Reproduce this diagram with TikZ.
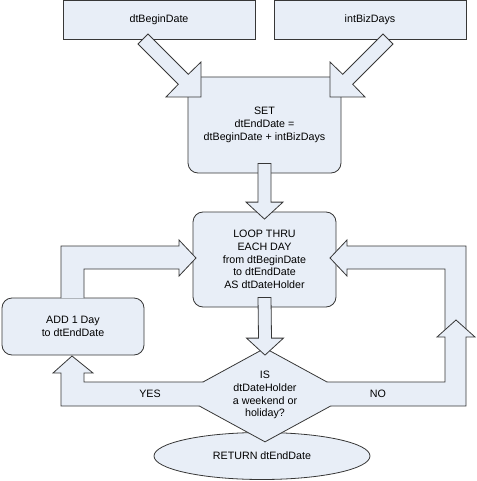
\documentclass[tikz,border=0pt]{standalone}
\usepackage{fontspec}
\setmainfont{Liberation Sans}
\usepackage{tikz}
\usetikzlibrary{calc}
\usetikzlibrary{shapes}
\definecolor{boxfill}{RGB}{232,238,247}
\definecolor{boxline}{RGB}{55,55,55}
\newcommand{\vblock}[2]{%
  \filldraw[blk] ($(#1)+(-6.5,-10)$) -- ($(#1)+(6.5,-10)$) -- ($(#2)+(6.5,-9.5)$)
    -- ($(#2)+(18.5,-9.5)$) -- ($(#2)+(0,7.5)$) -- ($(#2)+(-18.5,-9.5)$)
    -- ($(#2)+(-6.5,-9.5)$) -- cycle;}
\newcommand{\band}[1]{\fill[boxfill] #1 -- cycle; \draw[boxline,line width=.8pt] #1;}

\begin{document}
\begin{tikzpicture}[x=1pt,y=-1pt,
    font=\fontsize{10.7}{12.8}\selectfont,
    box/.style={draw=boxline,fill=boxfill,line width=.8pt,inner sep=0pt,align=center},
    rbox/.style={box,rounded corners=10pt},
    blk/.style={fill=boxfill,draw=boxline,line width=.8pt}]
  \useasboundingbox (0,0) rectangle (476,481);
  \node[box,minimum width=192pt,minimum height=39pt] (beg) at (159,20) {dtBeginDate};
  \node[box,minimum width=192pt,minimum height=39pt] (biz) at (370,20) {intBizDays};
  \node[rbox,minimum width=153pt,minimum height=96pt] (set) at (264.5,125)
    {SET\\dtEndDate =\\dtBeginDate + intBizDays};
  \node[rbox,minimum width=143pt,minimum height=95pt] (loop) at (264.5,259.5)
    {LOOP THRU\\EACH DAY\\from dtBeginDate\\to dtEndDate\\AS dtDateHolder};
  \node[rbox,minimum width=142pt,minimum height=57pt] (add) at (73,326.5)
    {ADD 1 Day\\to dtEndDate};
  \node[box,ellipse,minimum width=216pt,minimum height=47pt] (ret) at (262,456)
    {RETURN dtEndDate};
  \node[box,diamond,aspect=1.83,minimum width=172pt,minimum height=94pt] (test) at (265,395)
    {IS\\dtDateHolder\\a weekend or\\holiday?};
  \band{(84,298) -- (84,269) -- (179,269) -- (179,276) -- (196,258) -- (179,240) -- (179,246) -- (61,246) -- (61,298)}
  \band{(445,334) -- (445,269) -- (347,269) -- (347,276) -- (330,258) -- (347,240) -- (347,246) -- (466,246) -- (466,334)}
  \band{(203,382) -- (84,382) -- (84,373) -- (93,373) -- (72,356) -- (53,373) -- (61,373) -- (61,406) -- (199,406)}
  \band{(327,382) -- (445,382) -- (445,337) -- (437,337) -- (456,320) -- (475,337) -- (466,337) -- (466,406) -- (331,406)}
  \node (yes) at (150,394) {YES};
  \node (no) at (378,394) {NO};
  \filldraw[blk] (148,34) -- (188.3,74.3) -- (201,62) -- (201,97) -- (166,97) -- (178.3,84.3) -- (138,44) -- cycle;
  \filldraw[blk] (383,34) -- (342.7,74.3) -- (330,62) -- (330,97) -- (365,97) -- (352.7,84.3) -- (393,44) -- cycle;
  \vblock{set.south}{loop.north}
  \vblock{loop.south}{test.north}
\end{tikzpicture}
\end{document}
